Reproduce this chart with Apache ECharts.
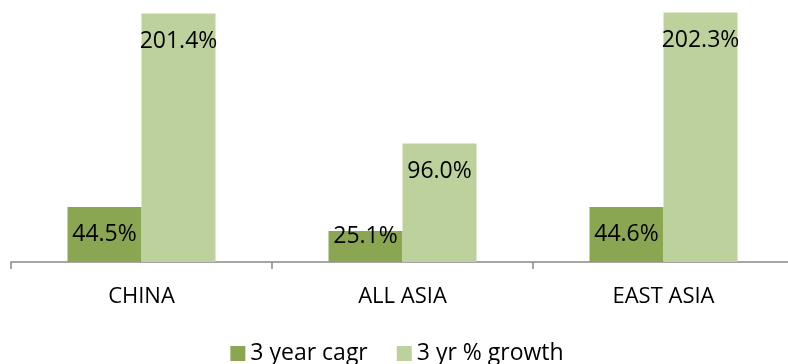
<!DOCTYPE html>
<html>
<head>
<meta charset="utf-8">
<script src="https://cdn.jsdelivr.net/npm/echarts@6/dist/echarts.min.js"></script>
<style>
  html, body { margin: 0; padding: 0; background: #fff; overflow: hidden; }
  /* chart runs a few px past the right edge, like the clipped original */
  #chart { width: 794px; height: 364px; }
</style>
</head>
<body>
<div id="chart"></div>
<script>
const categories = ['CHINA', 'ALL ASIA', 'EAST ASIA'];
const cagr = [44.5, 25.1, 44.6];
const growth = [201.4, 96.0, 202.3];
const seriesNames = ['3 year cagr', '3 yr % growth'];

const chartDom = document.getElementById('chart');
const myChart = echarts.init(chartDom);

const labelStyle = {
  show: true,
  position: 'insideTop',
  distance: 16,
  color: '#000',
  fontFamily: 'Open Sans',
  fontSize: 23,
  formatter: p => p.value.toFixed(1) + '%'
};

// short bar: Excel pushes the label up past the bar top
const cagrData = cagr.map(v => v < 30
  ? { value: v, label: { offset: [0, -22] } }
  : v);

const option = {
  animation: false,
  legend: {
    bottom: -6,
    left: 'center',
    itemWidth: 15,
    itemHeight: 15,
    itemGap: 29,
    icon: 'rect',
    textStyle: { fontFamily: 'Open Sans', fontSize: 23, color: '#000' },
    data: seriesNames
  },
  grid: {
    left: 11,
    right: 0,
    top: 3,
    bottom: 102
  },
  xAxis: {
    type: 'category',
    data: categories,
    axisLine: { lineStyle: { color: '#888', width: 1.5 } },
    axisTick: { show: true, length: 7, lineStyle: { color: '#888', width: 1.5 } },
    axisLabel: { color: '#000', fontFamily: 'Open Sans', fontSize: 22, margin: 24 }
  },
  yAxis: {
    type: 'value',
    min: 0,
    max: 210,
    show: false,
    splitLine: { show: false }
  },
  series: [
    {
      name: seriesNames[0],
      type: 'bar',
      data: cagrData,
      barWidth: 74,
      barGap: '0%',
      itemStyle: { color: '#8ba652' },
      label: labelStyle
    },
    {
      name: seriesNames[1],
      type: 'bar',
      data: growth,
      barWidth: 74,
      itemStyle: { color: '#bcd19b' },
      label: labelStyle
    }
  ]
};

myChart.setOption(option);
</script>
</body>
</html>
